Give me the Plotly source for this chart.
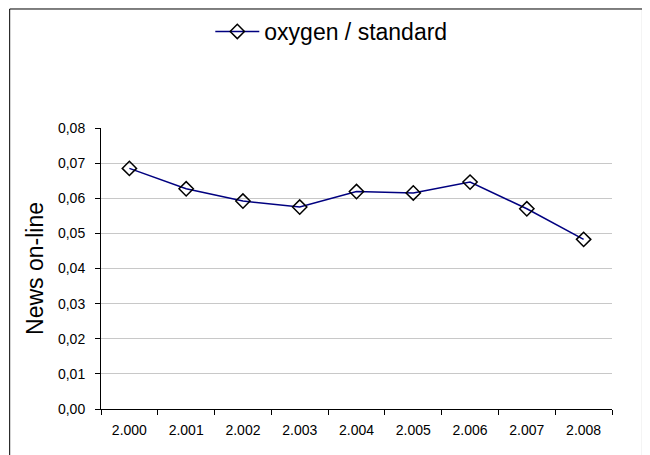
import plotly.graph_objects as go

# Anni (etichette come nel grafico originale) e valori della serie
years = ['2.000', '2.001', '2.002', '2.003', '2.004', '2.005', '2.006', '2.007', '2.008']
oxygen_standard = [0.0685, 0.0627, 0.0592, 0.0575, 0.0619, 0.0615, 0.0646, 0.0570, 0.0483]

fig = go.Figure()

fig.add_trace(go.Scatter(
    x=years,
    y=oxygen_standard,
    mode='lines+markers',
    name='oxygen / standard',
    line=dict(color='#000080', width=1.5),
    marker=dict(symbol='diamond-open', size=11, color='black', line=dict(width=1.5, color='black')),
))

# cornice esterna del grafico
fig.add_shape(type='rect', xref='paper', yref='paper',
              x0=-0.1787, x1=1.0596, y0=-0.3, y1=1.4235,
              line=dict(color='black', width=1), fillcolor='rgba(0,0,0,0)', layer='below')

fig.update_layout(
    width=650, height=455,
    margin=dict(l=92.5, r=45.5, t=120, b=54, autoexpand=False),
    paper_bgcolor='white', plot_bgcolor='white',
    separators=',.',
    font=dict(family='Liberation Sans, Arial', color='black', size=14),
    showlegend=True,
    legend=dict(orientation='h', x=0.2139, xanchor='left', y=1.42, yanchor='top',
                itemwidth=44, font=dict(size=23), bgcolor='rgba(0,0,0,0)'),
    xaxis=dict(
        type='category', showgrid=False, showline=True, linecolor='black', linewidth=1,
        ticks='outside', tickson='boundaries', ticklen=5, tickcolor='black',
        ticklabelstandoff=8, tickfont=dict(size=14), range=[-0.5, 8.5],
    ),
    yaxis=dict(
        range=[0, 0.08], dtick=0.01, tickformat='.2f',
        showgrid=True, gridcolor='#c8c8c8', gridwidth=1,
        showline=True, linecolor='black', linewidth=1,
        ticks='outside', ticklen=5, tickcolor='black', ticklabelstandoff=7,
        tickfont=dict(size=14), zeroline=False,
        title=dict(text='News on-line', font=dict(size=23), standoff=7),
    ),
)

fig.write_html('out.html')
